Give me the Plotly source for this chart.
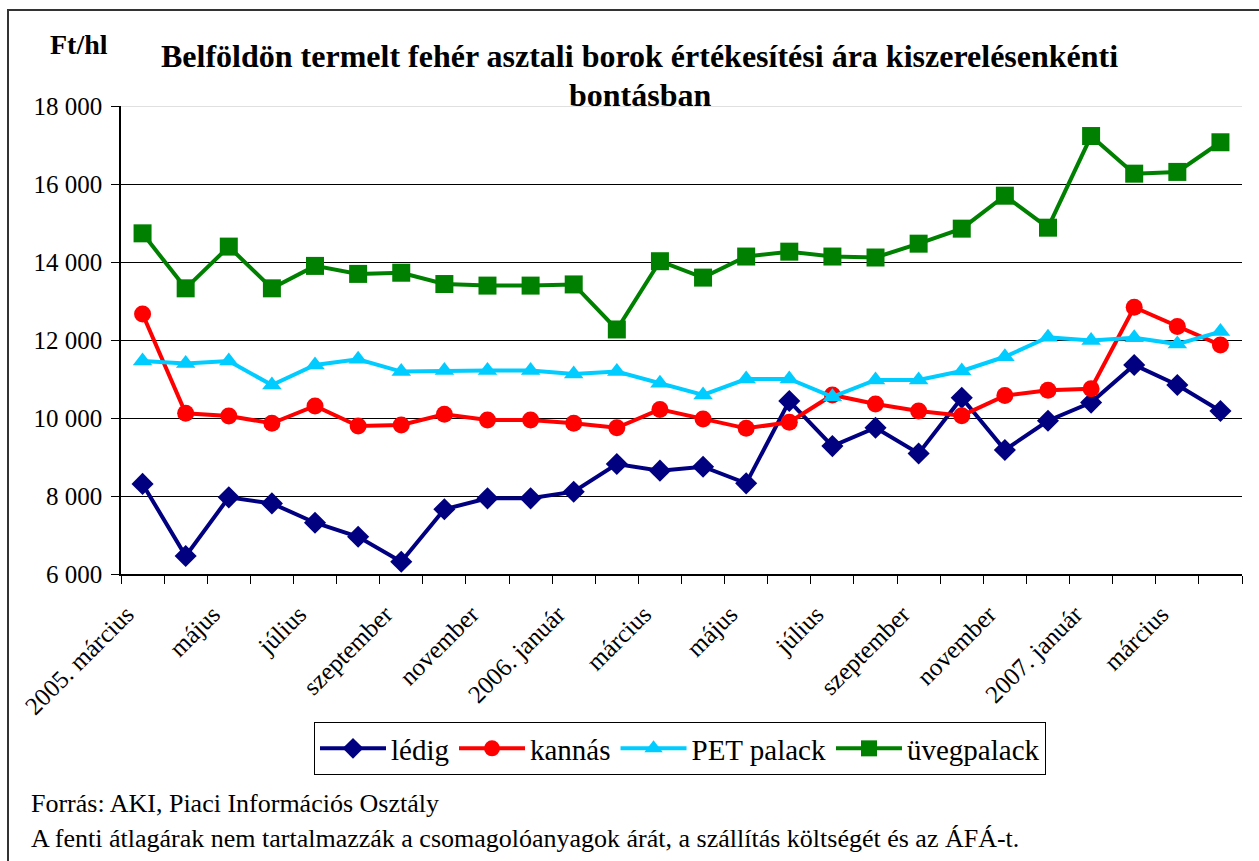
import plotly.graph_objects as go

months = ["2005. március", "április", "május", "június", "július", "augusztus", "szeptember",
          "október", "november", "december", "2006. január", "február", "március", "április",
          "május", "június", "július", "augusztus", "szeptember", "október", "november",
          "december", "2007. január", "február", "március", "április"]
tick_labels = ["2005. március", "május", "július", "szeptember", "november", "2006. január",
               "március", "május", "július", "szeptember", "november", "2007. január", "március"]

ledig = [8310, 6460, 7965, 7810, 7315, 6955, 6315, 7660, 7940, 7940, 8110, 8820, 8650,
         8750, 8325, 10435, 9280, 9750, 9090, 10520, 9180, 9930, 10395, 11360, 10845, 10180]
kannas = [12667, 10120, 10050, 9865, 10310, 9795, 9820, 10095, 9950, 9950, 9865, 9750, 10220,
          9975, 9735, 9890, 10590, 10360, 10180, 10060, 10575, 10710, 10750, 12840, 12345, 11870]
pet = [11460, 11400, 11460, 10845, 11360, 11505, 11190, 11215, 11215, 11215, 11130, 11190, 10890,
       10590, 11000, 11000, 10545, 10975, 10975, 11205, 11570, 12070, 11985, 12060, 11895, 12215]
uveg = [14735, 13325, 14395, 13325, 13900, 13695, 13725, 13435, 13395, 13395, 13425, 12270, 14020,
        13600, 14140, 14265, 14140, 14115, 14470, 14855, 15700, 14880, 17230, 16265, 16310, 17070]

series = [
    ("lédig", ledig, "#000080", "diamond", 17),
    ("kannás", kannas, "#FF0000", "circle", 17),
    ("PET palack", pet, "#00CCFF", "triangle-up", 17),
    ("üvegpalack", uveg, "#008000", "square", 18),
]

W, H = 1259, 861
L, R, T, B = 121, 1242, 106, 574
pw, ph = R - L, B - T

def px(x):
    return (x - L) / pw

def py(y):
    return (B - y) / ph

x = list(range(len(months)))
fig = go.Figure()
for name, vals, col, sym, sz in series:
    fig.add_trace(go.Scatter(
        x=x, y=vals, name=name, mode="lines+markers",
        line=dict(color=col, width=4),
        marker=dict(symbol=sym, size=sz, color=col, line=dict(width=0)),
        customdata=months,
        hovertemplate="%{customdata}: %{y}<extra>" + name + "</extra>",
    ))

serif = "Liberation Serif"
fig.update_layout(
    width=W, height=H,
    margin=dict(l=L, r=W - R, t=T, b=H - B, autoexpand=False),
    paper_bgcolor="white", plot_bgcolor="white",
    font=dict(family=serif, color="black", size=25),
    xaxis=dict(
        range=[-0.5, len(months) - 0.5],
        tickmode="array", tickvals=list(range(0, len(months), 2)), ticktext=tick_labels,
        tickangle=-45, ticks="", showgrid=False, zeroline=False,
        showline=True, linecolor="black", linewidth=1.5,
        tickfont=dict(size=25, family=serif),
        ticklabelstandoff=14, ticklabelshift=-16,
        minor=dict(tickmode="array", tickvals=[i - 0.5 for i in range(len(months) + 1)],
                   ticks="outside", ticklen=8, tickcolor="black", tickwidth=1, showgrid=False),
    ),
    yaxis=dict(
        range=[6000, 18000], tickmode="array",
        tickvals=[6000, 8000, 10000, 12000, 14000, 16000, 18000],
        ticktext=["6 000", "8 000", "10 000", "12 000", "14 000", "16 000", "18 000"],
        ticks="outside", ticklen=8, tickcolor="black",
        showgrid=True, gridcolor="black", gridwidth=1, zeroline=False,
        showline=True, linecolor="black", linewidth=1.5,
        tickfont=dict(size=25, family=serif),
        ticklabelstandoff=4,
    ),
    legend=dict(
        orientation="h", x=px(680), xanchor="center", y=py(722), yanchor="top",
        bordercolor="black", borderwidth=1, bgcolor="white",
        font=dict(size=29, family=serif), itemwidth=66, tracegroupgap=0,
    ),
    showlegend=True,
)

# light grey top border line of plot area
fig.add_shape(type="line", xref="paper", yref="y", x0=0, x1=1, y0=18000, y1=18000,
              line=dict(color="#E0E0E0", width=2), layer="above")
# outer chart frame
fig.add_shape(type="rect", xref="paper", yref="paper",
              x0=px(8), x1=px(1270), y0=py(880), y1=py(10),
              line=dict(color="#333333", width=2), fillcolor="rgba(0,0,0,0)", layer="below")

fig.add_annotation(text="<b>Belföldön termelt fehér asztali borok értékesítési ára kiszerelésenkénti</b>",
                   xref="paper", yref="paper", x=px(639), y=py(56),
                   xanchor="center", yanchor="middle", showarrow=False,
                   font=dict(size=32, family=serif))
fig.add_annotation(text="<b>bontásban</b>",
                   xref="paper", yref="paper", x=px(640), y=py(95),
                   xanchor="center", yanchor="middle", showarrow=False,
                   font=dict(size=32, family=serif))
fig.add_annotation(text="<b>Ft/hl</b>", xref="paper", yref="paper", x=px(79), y=py(44),
                   xanchor="center", yanchor="middle", showarrow=False,
                   font=dict(size=28, family=serif))
fig.add_annotation(text="Forrás: AKI, Piaci Információs Osztály", xref="paper", yref="paper",
                   x=px(29), y=py(803), xanchor="left", yanchor="middle", showarrow=False,
                   font=dict(size=26, family=serif))
fig.add_annotation(text="A fenti átlagárak nem tartalmazzák a csomagolóanyagok árát, a szállítás költségét és az ÁFÁ-t.",
                   xref="paper", yref="paper",
                   x=px(29), y=py(838), xanchor="left", yanchor="middle", showarrow=False,
                   font=dict(size=26, family=serif))

fig.write_html("out.html", config={"displayModeBar": False},
               post_script="document.body.style.margin='0';")
